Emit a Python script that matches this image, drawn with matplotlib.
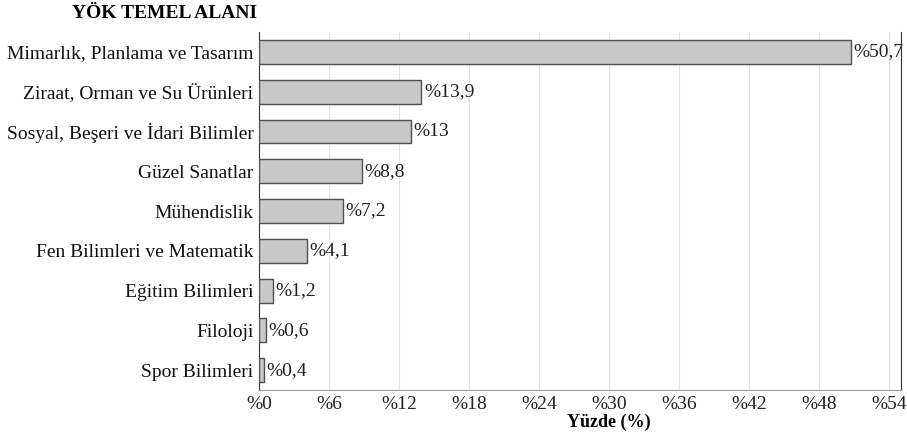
import matplotlib.pyplot as plt

# data
categories = ['Mimarlık, Planlama ve Tasarım', 'Ziraat, Orman ve Su Ürünleri',
              'Sosyal, Beşeri ve İdari Bilimler', 'Güzel Sanatlar', 'Mühendislik',
              'Fen Bilimleri ve Matematik', 'Eğitim Bilimleri', 'Filoloji', 'Spor Bilimleri']
values = [50.7, 13.9, 13, 8.8, 7.2, 4.1, 1.2, 0.6, 0.4]
value_labels = ['%50,7', '%13,9', '%13', '%8,8', '%7,2', '%4,1', '%1,2', '%0,6', '%0,4']
xticks = [0, 6, 12, 18, 24, 30, 36, 42, 48, 54]

plt.rcParams['font.family'] = ['Liberation Serif', 'DejaVu Serif']

fig = plt.figure(figsize=(9.07, 4.41), dpi=100)
ax = fig.add_axes([0.2856, 0.1156, 0.7078, 0.8118])

ypos = list(range(len(categories)))
ax.barh(ypos, values, height=0.6, color='#c8c8c8', edgecolor='#505050', linewidth=1, zorder=3)
for y, v, lab in zip(ypos, values, value_labels):
    ax.annotate(lab, (v, y), xytext=(2, 0), textcoords='offset points',
                va='center', ha='left', fontsize=14, color='#222222', zorder=4)

ax.set_ylim(8.5, -0.5)
ax.set_xlim(0, 55)
ax.set_yticks(ypos)
ax.set_yticklabels(categories, fontsize=14, color='#111111')
ax.set_xticks(xticks)
ax.set_xticklabels(['%' + str(t) for t in xticks], fontsize=14, color='#222222')
ax.tick_params(length=0, pad=4)
ax.grid(axis='x', color='#e2e2e2', linewidth=0.8, zorder=0)
ax.set_xlabel('Yüzde (%)', fontsize=13, fontweight='bold')
ax.xaxis.set_label_coords(0.545, -0.065)

ax.spines['top'].set_visible(False)
ax.spines['left'].set_color('#333333')
ax.spines['right'].set_color('#333333')
ax.spines['bottom'].set_color('#999999')

fig.text(0.181, 0.970, 'YÖK TEMEL ALANI', ha='center', va='center', fontsize=14, fontweight='bold')

plt.savefig('out.png')
